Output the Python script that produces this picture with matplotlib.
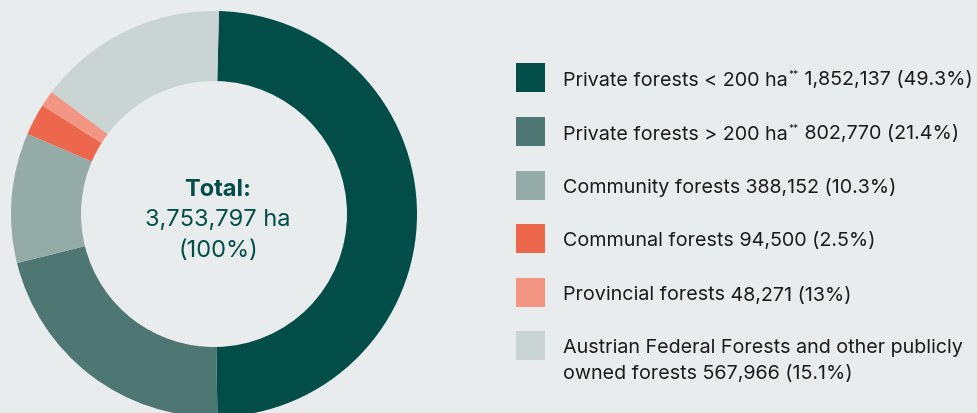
import matplotlib
matplotlib.use("Agg")
import matplotlib.pyplot as plt

# ---- data ----
categories = [
    "Private forests < 200 ha",
    "Private forests > 200 ha",
    "Community forests",
    "Communal forests",
    "Provincial forests",
    "Austrian Federal Forests and other publicly\nowned forests",
]
values = [1852137, 802770, 388152, 94500, 48271, 567966]
value_labels = ["1,852,137", "802,770", "388,152", "94,500", "48,271", "567,966"]
pct_labels = ["(49.3%)", "(21.4%)", "(10.3%)", "(2.5%)", "(13%)", "(15.1%)"]
footnote_marks = ["**", "**", "", "", "", ""]
total_label = "3,753,797 ha"
total_pct = "(100%)"
colors = ["#024d48", "#4e7773", "#94aba8", "#ec674b", "#f39583", "#c9d4d3"]

BG = "#e8eced"
TXT = "#1b1b1b"
GREEN = "#024d48"
FONT = "Inter"

W, H = 978, 414
fig = plt.figure(figsize=(W / 100, H / 100), dpi=100, facecolor=BG)
ax = fig.add_axes([0, 0, 1, 1])
ax.set_facecolor(BG)

cx, cy, R, r_in = 214, H - 215, 203, 133
ax.pie(values, colors=colors, startangle=88.6, counterclock=False,
       radius=R, center=(cx, cy), frame=True,
       wedgeprops=dict(width=R - r_in, linewidth=0))
ax.set_xlim(0, W)
ax.set_ylim(0, H)
ax.set_aspect("equal")
ax.axis("off")

# center text
ax.text(cx + 4, H - 196, "Total:", ha="center", va="baseline", fontsize=17,
        fontweight="bold", color=GREEN, family=FONT)
ax.text(cx + 4, H - 226, total_label, ha="center", va="baseline", fontsize=17,
        color=GREEN, family=FONT)
ax.text(cx + 4, H - 257, total_pct, ha="center", va="baseline", fontsize=17,
        color=GREEN, family=FONT)

# legend
renderer = fig.canvas.get_renderer()
sq_x, sq = 516, 29
text_x = 563
row_centers = [78.5, 132.5, 186, 239.5, 293.5, 346.5]
fs = 14.2
cap = 14.0
line_gap = 26
for i, cat in enumerate(categories):
    yc = H - row_centers[i]
    ax.add_patch(plt.Rectangle((sq_x, yc - sq / 2), sq, sq, facecolor=colors[i],
                               edgecolor="none"))
    lines = cat.split("\n")
    base = yc - cap / 2
    for j, line in enumerate(lines):
        y = base - j * line_gap
        x = text_x
        if j == len(lines) - 1:
            t = ax.text(x, y, line, ha="left", va="baseline", fontsize=fs,
                        color=TXT, family=FONT)
            bb = t.get_window_extent(renderer)
            x = bb.x1
            if footnote_marks[i]:
                t2 = ax.text(x + 1, y + 7, footnote_marks[i], ha="left",
                             va="baseline", fontsize=7.5, color=TXT, family=FONT)
                x = t2.get_window_extent(renderer).x1
            ax.text(x, y, " " + value_labels[i] + " " + pct_labels[i],
                    ha="left", va="baseline", fontsize=fs, color=TXT, family=FONT)
        else:
            ax.text(x, y, line, ha="left", va="baseline", fontsize=fs,
                    color=TXT, family=FONT)

fig.savefig("out.png", dpi=100, facecolor=BG)
